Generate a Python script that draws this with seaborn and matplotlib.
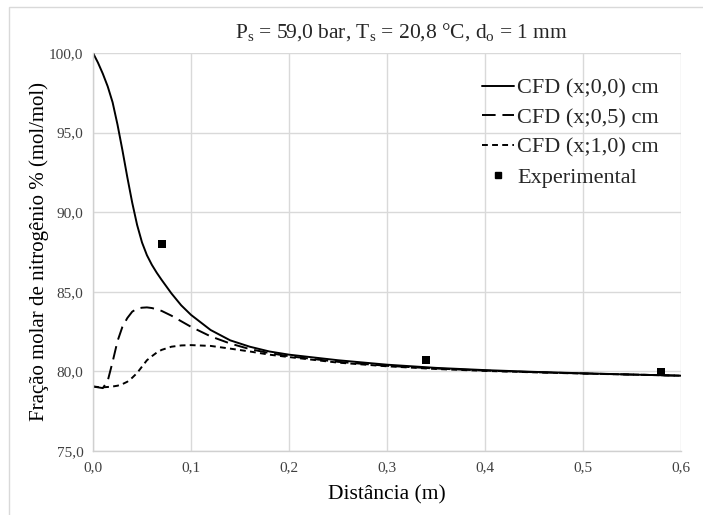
import matplotlib
matplotlib.use("Agg")
import matplotlib.pyplot as plt
import seaborn as sns
import pandas as pd
from matplotlib.ticker import FuncFormatter
from matplotlib.lines import Line2D
from matplotlib.patches import Rectangle

# ---- data ----
distance = [0, 0.005, 0.01, 0.015, 0.02, 0.025, 0.03, 0.035, 0.04, 0.045, 0.05, 0.055,
            0.06, 0.065, 0.07, 0.08, 0.09, 0.1, 0.12, 0.14, 0.16, 0.18, 0.2, 0.25, 0.3, 0.35,
            0.4, 0.45, 0.5, 0.55, 0.6]
cfd_00 = [100, 99.4, 98.7, 97.9, 96.9, 95.5, 93.9, 92.2, 90.6, 89.2, 88.1, 87.3,
          86.7, 86.2, 85.75, 84.9, 84.15, 83.55, 82.6, 81.95, 81.55, 81.25, 81.05, 80.7, 80.42, 80.22,
          80.08, 79.97, 79.88, 79.8, 79.73]
cfd_05 = [79.05, 79.0, 78.95, 79.4, 80.6, 81.9, 82.8, 83.35, 83.75, 83.95, 84.0, 84.02,
          83.98, 83.9, 83.8, 83.5, 83.15, 82.8, 82.2, 81.75, 81.4, 81.15, 80.95, 80.6, 80.35, 80.18,
          80.05, 79.95, 79.87, 79.8, 79.73]
cfd_10 = [79.05, 79.02, 79.0, 79.02, 79.05, 79.1, 79.2, 79.35, 79.6, 79.9, 80.3, 80.7,
          80.95, 81.18, 81.35, 81.55, 81.63, 81.65, 81.6, 81.43, 81.25, 81.05, 80.9, 80.55, 80.32, 80.15,
          80.03, 79.94, 79.86, 79.8, 79.73]
exp_x = [0.07, 0.34, 0.58]
exp_y = [88.0, 80.7, 79.95]

series_names = ["CFD (x;0,0) cm", "CFD (x;0,5) cm", "CFD (x;1,0) cm"]
x_ticks = [0.0, 0.1, 0.2, 0.3, 0.4, 0.5, 0.6]
y_ticks = [75, 80, 85, 90, 95, 100]

# ---- styling ----
sns.set_theme(style="white")
plt.rcParams["font.family"] = ["Liberation Serif", "DejaVu Serif"]
plt.rcParams["mathtext.fontset"] = "custom"
plt.rcParams["mathtext.rm"] = "Liberation Serif"
plt.rcParams["mathtext.it"] = "Liberation Serif:italic"

df = pd.concat([
    pd.DataFrame({"x": distance, "y": vals, "serie": name})
    for name, vals in zip(series_names, [cfd_00, cfd_05, cfd_10])
], ignore_index=True)

fig = plt.figure(figsize=(7.03, 5.15), dpi=100)
ax = fig.add_axes([0.1323, 0.1243, 0.8364, 0.7728])

dash_map = {series_names[0]: "", series_names[1]: (7, 3.5), series_names[2]: (3, 2.2)}
sns.lineplot(data=df, x="x", y="y", hue="serie", style="serie",
             palette=["black"] * 3, dashes=dash_map, linewidth=1.4,
             sort=False, ax=ax, legend=False)
sns.scatterplot(x=exp_x, y=exp_y, marker="s", color="black", s=28, ax=ax,
                edgecolor="black", linewidth=0, zorder=5)

ax.set_xlim(0, 0.6)
ax.set_ylim(75, 100)
ax.set_xticks(x_ticks)
ax.set_yticks(y_ticks)
ax.xaxis.set_major_formatter(FuncFormatter(lambda v, p: f"{v:.1f}".replace(".", ",")))
ax.yaxis.set_major_formatter(FuncFormatter(lambda v, p: f"{v:.1f}".replace(".", ",")))
ax.tick_params(axis="both", length=0, labelsize=11, colors="#404040", pad=7)
ax.grid(True, color="#d9d9d9", linewidth=1)
for side in ["top", "right"]:
    ax.spines[side].set_visible(False)
for side in ["left", "bottom"]:
    ax.spines[side].set_color("#d0d0d0")
    ax.spines[side].set_linewidth(1)

ax.set_xlabel("Distância (m)", fontsize=15.5, color="black", labelpad=8)
ax.set_ylabel("Fração molar de nitrogênio % (mol/mol)", fontsize=15, color="black", labelpad=0)
fig.text(0.571, 0.937, r"P$_\mathrm{s}$ = 59,0 bar, T$_\mathrm{s}$ = 20,8 °C, d$_\mathrm{o}$ = 1 mm",
         ha="center", va="center", fontsize=15.5)

handles = [
    Line2D([], [], color="black", lw=1.4, linestyle="-"),
    Line2D([], [], color="black", lw=1.4, dashes=(7, 3.5)),
    Line2D([], [], color="black", lw=1.4, dashes=(3, 2.2)),
    Line2D([], [], color="black", marker="s", linestyle="", markersize=5),
]
ax.legend(handles, series_names + ["Experimental"], loc="upper left",
          bbox_to_anchor=(462 / 703, 1 - 58 / 515), bbox_transform=fig.transFigure,
          frameon=False, fontsize=16,
          handlelength=1.44, handletextpad=0.15, labelspacing=0.41)

fig.patches.append(Rectangle((9 / 703, -0.02), 1.0, 1 - 7 / 515 + 0.02,
                             transform=fig.transFigure, fill=False,
                             edgecolor="#d9d9d9", linewidth=1))

fig.savefig("out.png", dpi=100)
